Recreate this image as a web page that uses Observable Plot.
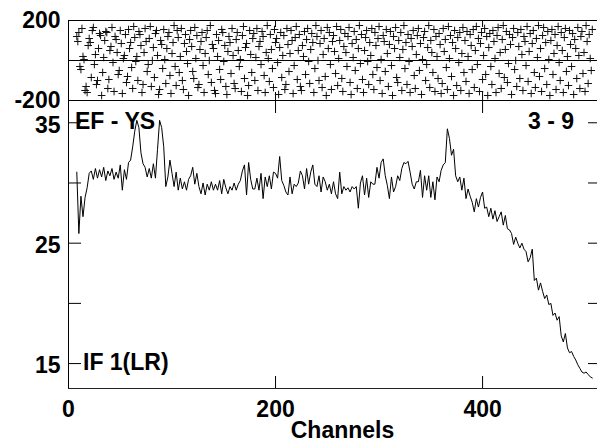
<!DOCTYPE html>
<html><head><meta charset="utf-8">
<script src="https://cdn.jsdelivr.net/npm/d3@7"></script>
<script src="https://cdn.jsdelivr.net/npm/@observablehq/plot@0.6"></script>
<style>
html,body{margin:0;padding:0;background:#fff;}
#chart{position:relative;width:597px;height:442px;overflow:hidden;background:#fff;}
#chart svg{position:absolute;left:0;top:0;}
</style></head><body><div id="chart"></div>
<script>
// ---- data ----
const channelDomain = [0, 512];
const channelTicks = [0, 200, 400];
const channelLabel = "Channels";

const phaseDomain = [-200, 200];
const phaseTicks = [-200, 200];
const phaseZero = [0];
const phaseFirstChannel = 8;
const phase = [
120,95,140,-30,-45,160,20,5,-150,-130,-160,75,110,90,-85,150,165,-20,30,-120,-100,60,135,125,-175,
-60,15,100,145,140,-140,-95,50,70,165,-10,-155,120,105,40,-70,-50,150,85,-165,10,25,130,-110,-80,
155,60,90,-35,-140,170,115,-5,20,-100,145,130,75,-160,-120,40,160,95,-55,-20,110,170,-130,0,65,
-85,135,150,25,-170,-145,100,80,-40,155,5,-115,60,120,140,-75,-165,35,90,175,-30,-125,150,115,-60,
20,160,-100,-145,85,130,45,-15,-175,105,150,70,-55,-90,165,10,125,-135,-120,55,95,140,-25,-160,35,
115,150,-70,0,175,-110,80,60,-150,-165,130,20,100,-45,-95,155,140,-5,75,-130,-170,45,120,90,-65,
160,25,-115,-140,105,140,50,-30,5,-155,125,170,-90,65,85,-175,-125,150,30,-60,110,135,-100,15,160,
-150,70,95,-20,145,120,-75,-160,40,175,10,-105,130,55,-40,-135,155,90,110,-10,-170,65,140,-85,25,
125,-145,-120,160,80,-55,35,150,100,-165,-25,115,170,-95,50,130,-130,-150,75,20,145,-70,105,160,-5,
-115,55,135,90,-160,-40,175,120,0,-100,85,150,-135,30,110,-80,-175,165,60,140,-20,-145,95,125,45,
-65,170,-125,10,100,155,-90,-155,70,135,40,-30,120,165,-110,-170,85,15,145,-50,105,-140,60,175,-15,
130,-95,-160,50,115,150,-5,-120,90,25,160,-70,-145,140,75,-35,110,170,-100,5,-165,125,95,-55,155,
35,-130,80,145,-25,-175,120,60,165,-85,-110,100,15,140,-150,55,175,-40,90,-120,130,-5,-160,110,70,
150,-75,-140,30,125,160,-50,85,-170,5,115,145,-100,-20,65,175,-135,100,40,-60,155,-155,120,20,-90,
135,80,-165,-115,160,45,105,-35,-145,170,10,125,-80,90,-175,150,60,-125,115,-10,140,-150,35,165,-60,
100,-105,145,20,-165,130,75,-45,155,-135,50,170,-20,110,-155,85,140,-95,25,160,-70,120,-175,65,135,
-30,-120,150,95,10,-160,125,165,-65,40,-140,105,175,-85,55,145,-110,-15,130,80,-170,115,160,-45,0,
-130,140,70,-90,155,30,-150,120,95,-25,170,-105,45,135,-165,85,150,-60,-135,110,15,175,-80,60,-155,
125,165,-40,90,-120,145,5,-175,100,155,-70,35,130,-145,75,170,-10,-100,140,50,-160,115,160,-55,20,
-125,150,80,-30,135,-170,105,60,-90,165,25,-140,120,145,-65,40,-155,175,95,-115,130,10,-50,155
];

const ampDomain = [12.93, 36.85];
const ampTicks = [15, 20, 25, 30, 35];
const ampTickLabels = [15, 25, 35];
const ampFirstChannel = 8;
const ampChannelStep = 2;
const amplitude = [
30.9,25.8,28.9,27.2,28.8,29.6,30.8,31.0,30.3,31.2,
30.4,31.1,30.5,31.3,30.2,31.0,30.6,31.2,30.3,30.9,
30.4,31.5,29.4,31.1,30.3,31.7,31.9,33.0,34.3,35.2,
34.6,32.5,31.6,31.3,30.5,31.2,30.4,31.6,30.4,32.8,
35.2,34.6,33.0,29.7,30.5,31.9,30.8,29.7,30.9,29.4,
30.4,29.5,30.1,29.4,30.3,30.6,31.3,29.9,30.8,29.7,
29.1,30.0,29.0,29.9,29.4,30.1,29.4,29.9,29.4,30.2,
29.1,30.3,29.6,29.1,29.7,29.4,30.0,29.4,29.9,30.2,
31.0,31.5,29.0,31.7,30.3,29.5,29.5,30.4,29.4,30.8,
28.7,30.5,29.7,30.6,29.5,30.9,30.8,30.4,32.2,30.2,
29.8,29.25,29.0,30.5,29.1,29.9,29.7,30.0,31.0,30.6,
29.5,31.2,29.9,30.9,31.5,29.9,29.7,30.6,29.25,30.5,
30.1,29.4,29.9,29.1,30.1,29.1,28.7,30.9,29.1,29.7,
29.4,29.6,29.25,29.7,29.5,29.7,27.9,30.0,30.6,29.0,
30.4,28.8,30.1,29.9,29.9,31.3,30.4,31.7,32.0,30.6,
29.8,28.7,30.5,29.25,29.7,30.6,30.2,31.2,31.7,31.6,
31.8,30.9,29.9,29.5,30.1,30.1,31.05,28.8,30.6,29.4,
30.6,28.8,30.1,28.6,30.5,30.1,31.05,31.5,31.7,34.5,
33.7,32.3,32.8,30.6,30.1,30.5,29.4,30.4,28.7,29.5,
28.9,28.4,27.6,28.7,28.0,28.8,29.25,27.9,28.0,27.2,
27.9,27.0,27.7,26.8,27.2,27.6,26.5,27.3,26.2,26.1,
25.8,24.9,25.5,25.0,24.6,25.0,24.5,24.3,23.45,23.8,
24.5,21.9,22.1,21.1,21.7,21.0,20.4,20.7,19.9,20.0,
19.0,19.2,18.6,18.9,17.3,16.8,17.5,16.3,15.9,16.0,
15.6,15.3,14.9,14.6,14.3,14.2,14.3,14.1,13.9,13.8
];

const baselineLabel = ["EF - YS"];
const pageLabel = ["3 - 9"];
const ifLabel = ["IF 1(LR)"];

// ---- build tables ----
const phaseData = phase.map((p, i) => ({channel: phaseFirstChannel + i, phase: p}));
const ampData = amplitude.map((a, i) => ({channel: ampFirstChannel + i * ampChannelStep, amp: a}));

const font = "'Liberation Sans', Arial, Helvetica, sans-serif";
const W = 600, H = 442;
const ML = 68, MR = 2;
const innerW = W - ML - MR;
const baseStyle = {fontFamily: font, fontSize: "23px", fontWeight: "bold", background: "transparent", color: "black", maxWidth: "none", overflow: "visible"};
const fmt = d => String(d);

const plusSymbol = {
  draw(ctx, size) {
    const r = Math.sqrt(size / Math.PI);
    ctx.moveTo(-r, 0); ctx.lineTo(r, 0);
    ctx.moveTo(0, -r); ctx.lineTo(0, r);
  }
};

// top panel: phase
const topTop = 20, topBottom = 100;
const topH = topBottom - topTop;
const phasePlot = Plot.plot({
  width: W, height: H,
  marginLeft: ML, marginRight: MR, marginTop: topTop, marginBottom: H - topBottom,
  x: {domain: channelDomain, axis: null, label: null},
  y: {domain: phaseDomain, label: null},
  style: baseStyle,
  marks: [
    Plot.ruleY(phaseTicks, {stroke: "black"}),
    Plot.ruleY(phaseZero, {stroke: "black"}),
    Plot.ruleX([channelDomain[0]], {stroke: "black"}),
    Plot.ruleY(phaseTicks, {stroke: "black", insetRight: innerW - 10}),
    Plot.ruleY(phaseTicks, {stroke: "black", insetLeft: innerW - 10}),
    Plot.ruleX(channelTicks.slice(1), {stroke: "black", insetBottom: topH - 7}),
    Plot.ruleX(channelTicks.slice(1), {stroke: "black", insetTop: topH - 8}),
    Plot.dot(phaseData, {x: "channel", y: "phase", symbol: plusSymbol, r: 3.8, stroke: "#111", strokeWidth: 1, fill: "none"}),
    Plot.axisY(phaseTicks, {anchor: "left", tickSize: 0, tickPadding: 8, label: null, tickFormat: fmt, dy: 0.5})
  ]
});

// bottom panel: amplitude
const botTop = 100, botBottom = 388;
const botH = botBottom - botTop;
const ampPlot = Plot.plot({
  width: W, height: H,
  marginLeft: ML, marginRight: MR, marginTop: botTop, marginBottom: H - botBottom,
  x: {domain: channelDomain, label: null},
  y: {domain: ampDomain, label: null},
  style: baseStyle,
  marks: [
    Plot.ruleX([channelDomain[0]], {stroke: "black"}),
    Plot.ruleY([ampDomain[0]], {stroke: "#222"}),
    Plot.ruleY(ampTicks, {stroke: "black", insetRight: innerW - 13}),
    Plot.ruleY(ampTicks, {stroke: "black", insetLeft: innerW - 10}),
    Plot.ruleX(channelTicks.slice(1), {stroke: "black", insetBottom: botH - 13}),
    Plot.ruleX(channelTicks.slice(1), {stroke: "black", insetTop: botH - 12}),
    Plot.line(ampData, {x: "channel", y: "amp", stroke: "black", strokeWidth: 1}),
    Plot.axisY(ampTickLabels, {anchor: "left", tickSize: 0, tickPadding: 8, label: null, tickFormat: fmt, dy: 2.5}),
    Plot.axisX(channelTicks, {anchor: "bottom", tickSize: 0, tickPadding: 12, label: null, tickFormat: fmt}),
    Plot.text([channelLabel], {text: d => d, frameAnchor: "bottom", lineAnchor: "middle", dx: 9, dy: 42}),
    Plot.text(baselineLabel, {text: d => d, frameAnchor: "top-left", lineAnchor: "middle", textAnchor: "start", dx: 6.5, dy: 21}),
    Plot.text(pageLabel, {text: d => d, frameAnchor: "top-right", lineAnchor: "middle", textAnchor: "end", dx: -24.5, dy: 21}),
    Plot.text(ifLabel, {text: d => d, frameAnchor: "bottom-left", lineAnchor: "middle", textAnchor: "start", dx: 14.5, dy: -26})
  ]
});

const chart = document.getElementById("chart");
chart.appendChild(ampPlot);
chart.appendChild(phasePlot);
</script>
</body></html>
